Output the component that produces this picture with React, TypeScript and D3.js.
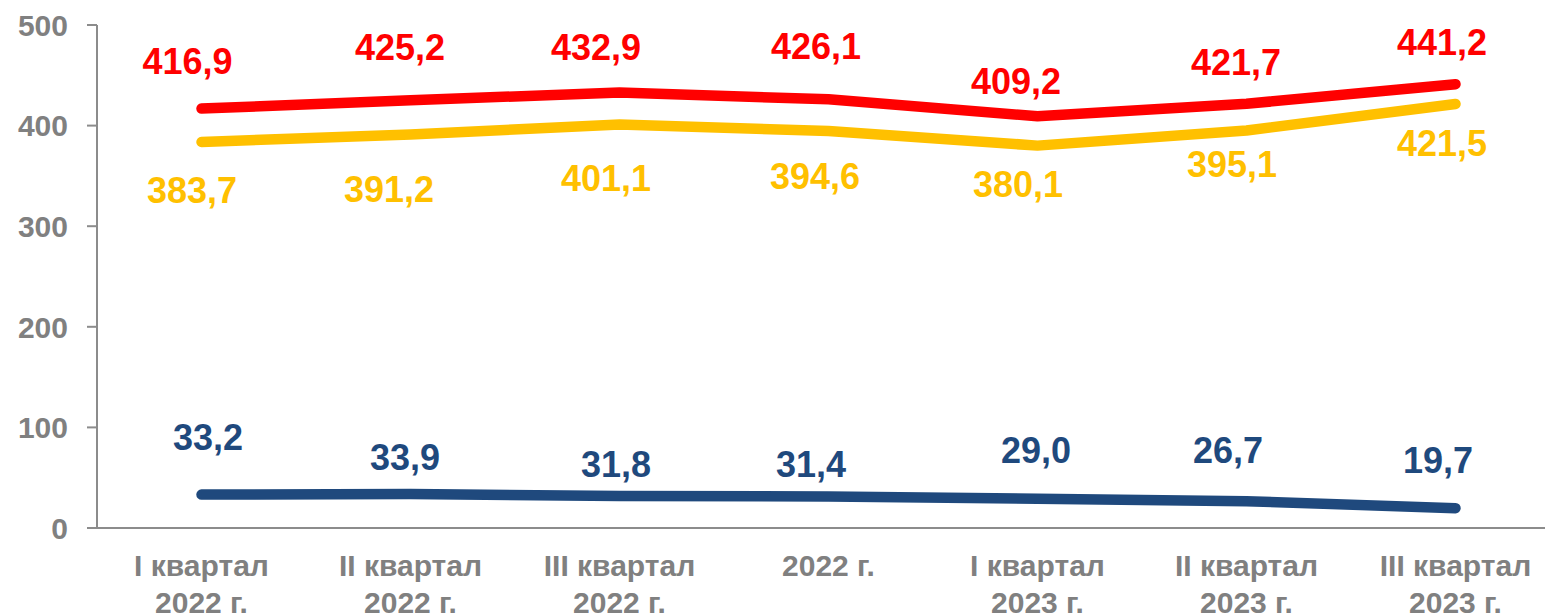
import React from "react";
import * as d3 from "d3";

const categories: string[][] = [
  ["I квартал", "2022 г."],
  ["II квартал", "2022 г."],
  ["III квартал", "2022 г."],
  ["2022 г."],
  ["I квартал", "2023 г."],
  ["II квартал", "2023 г."],
  ["III квартал", "2023 г."],
];

const redValues = [416.9, 425.2, 432.9, 426.1, 409.2, 421.7, 441.2];
const yellowValues = [383.7, 391.2, 401.1, 394.6, 380.1, 395.1, 421.5];
const blueValues = [33.2, 33.9, 31.8, 31.4, 29.0, 26.7, 19.7];

const yTicks = [0, 100, 200, 300, 400, 500];

// label nudges (dx, baseline dy) relative to each point
const redNudge: [number, number][] = [
  [-14, -35], [-10.5, -40], [-23.5, -32.5], [-12.5, -40], [-21.5, -22], [-10.5, -29], [-13.5, -29],
];
const yellowNudge: [number, number][] = [
  [-9.5, 61], [-21.5, 67.5], [-13.5, 66.5], [-13.5, 58], [-19.5, 51.4], [-14.5, 46.5], [-13.5, 52],
];
const blueNudge: [number, number][] = [
  [6.5, -44.6], [-5.5, -24], [-3.5, -19], [-17.5, -19.4], [-1.5, -35.8], [-18.5, -38], [-17.5, -35],
];

const W = 1545;
const H = 616;
const left = 97;
const step = 209;

const fmt = (v: number) => v.toFixed(1).replace(".", ",");

export default function App() {
  const keys = categories.map((_, i) => String(i));
  const x = d3
    .scaleBand<string>()
    .domain(keys)
    .range([left, left + step * keys.length]);
  const cx = (i: number) => (x(String(i)) as number) + x.bandwidth() / 2;
  const y = d3.scaleLinear().domain([0, 500]).range([528, 25]);

  const line = d3
    .line<number>()
    .x((_, i) => cx(i))
    .y((d) => y(d));

  const series = [
    { values: redValues, color: "#FF0000", nudge: redNudge },
    { values: yellowValues, color: "#FFC000", nudge: yellowNudge },
    { values: blueValues, color: "#1F497D", nudge: blueNudge },
  ];

  const gray = "#808080";
  const axisGray = "#8C8C8C";
  const font = "'Liberation Sans', Arial, sans-serif";

  return (
    <svg
      width={W}
      height={H}
      style={{ position: "absolute", left: 0, top: 0 }}
      fontFamily={font}
    >
      {/* y axis */}
      <line x1={left} x2={left} y1={y(500)} y2={y(0)} stroke={axisGray} strokeWidth={2} />
      {yTicks.map((t) => (
        <g key={t}>
          <line x1={left - 10} x2={left} y1={y(t)} y2={y(t)} stroke={axisGray} strokeWidth={2} />
          <text
            x={68}
            y={y(t)}
            dy="0.36em"
            textAnchor="end"
            fontSize={30}
            fontWeight="bold"
            fill={gray}
          >
            {t}
          </text>
        </g>
      ))}
      {/* x axis */}
      <line x1={left - 10} x2={W} y1={y(0)} y2={y(0)} stroke={axisGray} strokeWidth={2} />
      {categories.map((lines, i) => (
        <text
          key={i}
          x={cx(i)}
          textAnchor="middle"
          fontSize={30}
          fontWeight="bold"
          fill={gray}
        >
          {lines.map((l, j) => (
            <tspan key={j} x={cx(i)} y={576 + j * 37}>
              {l}
            </tspan>
          ))}
        </text>
      ))}
      {/* lines */}
      {series.map((s, k) => (
        <path
          key={k}
          d={line(s.values) || ""}
          fill="none"
          stroke={s.color}
          strokeWidth={10.5}
          strokeLinecap="round"
          strokeLinejoin="round"
        />
      ))}
      {/* labels */}
      {series.map((s, k) =>
        s.values.map((v, i) => (
          <text
            key={`${k}-${i}`}
            x={cx(i) + s.nudge[i][0]}
            y={y(v) + s.nudge[i][1]}
            textAnchor="middle"
            fontSize={36}
            fontWeight="bold"
            fill={s.color}
          >
            {fmt(v)}
          </text>
        ))
      )}
    </svg>
  );
}
